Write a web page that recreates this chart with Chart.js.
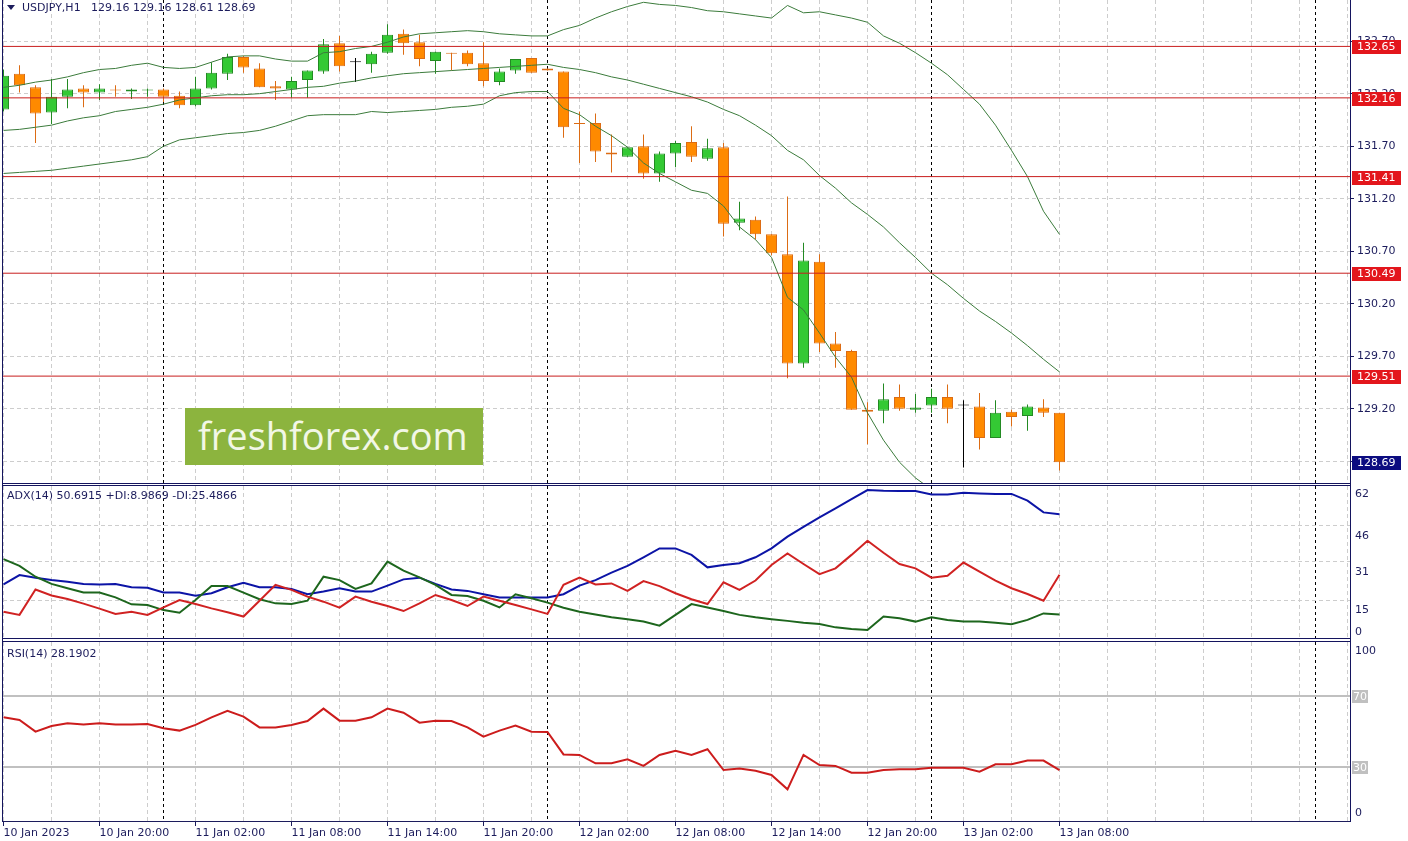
<!DOCTYPE html>
<html>
<head>
<meta charset="utf-8">
<title>USDJPY,H1</title>
<script src="https://cdn.jsdelivr.net/npm/chart.js@4.4.0/dist/chart.umd.min.js"></script>
<style>
  html, body { margin: 0; padding: 0; background: #fff; }
  body { width: 1408px; height: 841px; position: relative; overflow: hidden; font-family: 'DejaVu Sans', sans-serif; }
  canvas { position: absolute; left: 0; }
  .frame { position: absolute; background: #14145e; }
  .caption { position: absolute; font-size: 11px; line-height: 13px; color: #1c1c5c; white-space: pre; }
  #arrow { position: absolute; left: 7px; top: 5px; width: 0; height: 0; border-left: 4px solid transparent; border-right: 4px solid transparent; border-top: 5px solid #1c1c5c; }
  #logo { position: absolute; left: 185px; top: 408px; width: 298px; height: 57px; background: #8cb43e; color: #f2f7e6; font-family: 'Open Sans', sans-serif; font-size: 38px; line-height: 55px; text-indent: 13px; }
</style>
</head>
<body>
<canvas id="main" width="1408" height="483" style="top:0"></canvas>
<canvas id="adx" width="1408" height="152" style="top:486px"></canvas>
<canvas id="rsi" width="1408" height="199" style="top:642px"></canvas>

<div class="frame" style="left:2px;top:0;width:1px;height:822px"></div>
<div class="frame" style="left:1350px;top:0;width:1px;height:822px"></div>
<div class="frame" style="left:2px;top:483px;width:1349px;height:1px"></div>
<div class="frame" style="left:2px;top:485px;width:1349px;height:1px"></div>
<div class="frame" style="left:2px;top:638px;width:1349px;height:1px"></div>
<div class="frame" style="left:2px;top:641px;width:1349px;height:1px"></div>

<div id="arrow"></div>
<div class="caption" style="left:22px;top:1px">USDJPY,H1   129.16 129.16 128.61 128.69</div>
<div class="caption" style="left:7px;top:489px">ADX(14) 50.6915 +DI:8.9869 -DI:25.4866</div>
<div class="caption" style="left:7px;top:647px">RSI(14) 28.1902</div>
<div id="logo">freshforex.com</div>

<script>
// hourly candles, 10 Jan 14:00 .. 13 Jan 08:00
const opens = [132.05, 132.39, 132.26, 132.02, 132.17, 132.25, 132.21, 132.24, 132.22, 132.23,
  132.24, 132.18, 132.09, 132.25, 132.39, 132.55, 132.44, 132.27, 132.24, 132.33,
  132.41, 132.68, 132.50, 132.48, 132.59, 132.77, 132.69, 132.51, 132.59, 132.59,
  132.49, 132.31, 132.42, 132.54, 132.44, 132.41, 131.92, 131.92, 131.64, 131.60,
  131.70, 131.44, 131.63, 131.74, 131.58, 131.69, 130.97, 131.00, 130.86, 130.67,
  129.63, 130.60, 129.82, 129.75, 129.19, 129.18, 129.31, 129.19, 129.23, 129.31,
  129.23, 129.22, 128.92, 129.17, 129.13, 129.21, 129.16];
const highs = [132.43, 132.47, 132.28, 132.34, 132.34, 132.28, 132.29, 132.28, 132.25, 132.25,
  132.25, 132.22, 132.36, 132.50, 132.58, 132.56, 132.49, 132.32, 132.36, 132.42,
  132.72, 132.75, 132.54, 132.60, 132.86, 132.81, 132.76, 132.60, 132.59, 132.61,
  132.69, 132.44, 132.53, 132.54, 132.44, 132.41, 132.03, 132.01, 131.81, 131.69,
  131.81, 131.65, 131.75, 131.89, 131.77, 131.73, 131.17, 131.03, 130.86, 131.22,
  130.78, 130.67, 129.93, 129.76, 129.26, 129.44, 129.43, 129.34, 129.39, 129.43,
  129.28, 129.35, 129.28, 129.19, 129.24, 129.29, 129.16];
const lows = [132.03, 132.21, 131.73, 131.91, 132.06, 132.07, 132.14, 132.17, 132.15, 132.17,
  132.12, 132.06, 132.08, 132.24, 132.33, 132.40, 132.26, 132.14, 132.16, 132.16,
  132.39, 132.41, 132.31, 132.40, 132.58, 132.57, 132.46, 132.39, 132.42, 132.46,
  132.27, 132.28, 132.39, 132.40, 132.42, 131.78, 131.54, 131.55, 131.45, 131.60,
  131.39, 131.36, 131.50, 131.55, 131.56, 130.84, 130.90, 130.81, 130.66, 129.49,
  129.59, 129.74, 129.59, 129.19, 128.86, 129.06, 129.18, 129.16, 129.16, 129.06,
  128.64, 128.81, 128.92, 129.03, 128.99, 129.12, 128.61];
const closes = [132.37, 132.28, 132.01, 132.17, 132.24, 132.21, 132.25, 132.23, 132.24, 132.24,
  132.17, 132.09, 132.25, 132.40, 132.55, 132.45, 132.26, 132.25, 132.32, 132.42,
  132.67, 132.46, 132.50, 132.58, 132.76, 132.68, 132.53, 132.60, 132.58, 132.48,
  132.32, 132.41, 132.53, 132.40, 132.42, 131.88, 131.91, 131.65, 131.62, 131.69,
  131.44, 131.63, 131.73, 131.60, 131.68, 130.96, 131.01, 130.86, 130.68, 129.63,
  130.61, 129.82, 129.75, 129.19, 129.17, 129.29, 129.20, 129.21, 129.31, 129.20,
  129.23, 128.92, 129.16, 129.12, 129.22, 129.16, 128.69];

// Bollinger bands
const bbUpper = [132.26, 132.28, 132.31, 132.33, 132.36, 132.40, 132.43, 132.44, 132.47, 132.49,
  132.45, 132.44, 132.45, 132.50, 132.55, 132.56, 132.56, 132.53, 132.51, 132.51,
  132.59, 132.60, 132.63, 132.65, 132.69, 132.74, 132.77, 132.78, 132.79, 132.80,
  132.79, 132.77, 132.76, 132.75, 132.75, 132.81, 132.85, 132.92, 132.98, 133.03,
  133.07, 133.05, 133.04, 133.02, 132.99, 132.98, 132.96, 132.94, 132.92, 133.04,
  132.97, 132.98, 132.95, 132.92, 132.88, 132.75, 132.68, 132.59, 132.49, 132.38,
  132.24, 132.10, 131.90, 131.66, 131.41, 131.08, 130.86];
const bbMiddle = [131.85, 131.86, 131.88, 131.90, 131.94, 131.97, 131.99, 132.03, 132.05, 132.07,
  132.10, 132.14, 132.16, 132.18, 132.19, 132.19, 132.20, 132.22, 132.24, 132.26,
  132.27, 132.30, 132.32, 132.35, 132.37, 132.39, 132.40, 132.41, 132.42, 132.43,
  132.44, 132.45, 132.46, 132.47, 132.48, 132.45, 132.43, 132.40, 132.36, 132.33,
  132.29, 132.25, 132.21, 132.17, 132.12, 132.05, 131.99, 131.90, 131.80, 131.66,
  131.57, 131.42, 131.30, 131.16, 131.05, 130.93, 130.78, 130.64, 130.49, 130.38,
  130.25, 130.13, 130.03, 129.92, 129.80, 129.67, 129.55];
const bbLower = [131.44, 131.45, 131.46, 131.47, 131.49, 131.51, 131.53, 131.55, 131.57, 131.60,
  131.70, 131.76, 131.78, 131.80, 131.82, 131.83, 131.85, 131.89, 131.94, 131.99,
  132.00, 132.00, 132.00, 132.03, 132.02, 132.03, 132.04, 132.05, 132.07, 132.08,
  132.10, 132.18, 132.21, 132.22, 132.22, 132.06, 132.00, 131.89, 131.80, 131.69,
  131.54, 131.44, 131.36, 131.28, 131.25, 131.13, 130.93, 130.81, 130.64, 130.26,
  130.14, 129.92, 129.69, 129.50, 129.16, 128.90, 128.69, 128.54, 128.43, 128.28,
  128.14, 128.16, 128.15, 128.18, 128.19, 128.26, 128.23];

// ADX(14)
const adxMain = [21.5, 25.4, 24.3, 23.3, 22.6, 21.7, 21.5, 21.7, 20.3, 20.1,
  18.1, 18.1, 16.8, 17.8, 20.3, 22.2, 20.3, 20.3, 19.6, 17.4,
  18.5, 19.9, 18.5, 18.5, 21.0, 23.6, 24.3, 21.7, 19.4, 18.8,
  17.4, 16.0, 16.0, 16.0, 16.0, 17.4, 21.0, 23.3, 26.4, 29.2,
  32.8, 36.5, 36.5, 33.8, 28.6, 29.6, 30.3, 32.8, 36.5, 41.4,
  45.5, 49.4, 53.2, 57.0, 60.8, 60.5, 60.4, 60.4, 59.0, 59.0,
  59.7, 59.4, 59.2, 59.2, 56.4, 51.5, 50.69];
const plusDI = [32.0, 29.2, 24.7, 21.7, 19.9, 18.1, 18.1, 16.1, 13.2, 12.9,
  10.8, 9.7, 15.0, 20.8, 20.8, 18.1, 15.3, 13.6, 13.3, 14.7,
  24.7, 23.3, 19.6, 21.9, 31.0, 27.2, 24.4, 21.3, 17.1, 16.7,
  14.7, 11.9, 17.4, 15.7, 13.9, 11.8, 10.1, 9.0, 7.8, 7.0,
  6.0, 4.3, 8.8, 13.3, 11.9, 10.4, 8.8, 7.8, 7.0, 6.3,
  5.5, 5.0, 3.6, 2.9, 2.5, 8.1, 7.4, 6.0, 7.8, 6.7,
  6.0, 6.0, 5.5, 4.9, 6.7, 9.4, 8.99];
const minusDI = [10.1, 8.8, 19.4, 16.9, 15.4, 13.5, 11.4, 9.2, 10.1, 8.8,
  11.9, 15.0, 13.3, 11.5, 9.9, 8.1, 14.7, 21.3, 19.2, 16.4,
  14.3, 11.8, 16.4, 14.3, 12.5, 10.4, 13.6, 17.1, 15.0, 12.5,
  16.4, 14.7, 12.9, 11.1, 9.2, 21.3, 24.3, 21.5, 21.9, 18.8,
  22.9, 20.8, 17.8, 15.3, 13.3, 22.4, 19.2, 23.1, 29.6, 34.4,
  30.0, 25.8, 28.2, 33.8, 39.7, 34.7, 30.0, 28.2, 24.3, 25.1,
  30.6, 26.8, 23.1, 19.9, 17.5, 14.7, 25.49];

// RSI(14)
const rsi = [58.0, 56.5, 49.9, 53.1, 54.6, 54.0, 54.6, 54.0, 54.0, 54.2,
  51.8, 50.5, 53.7, 58.0, 61.7, 58.4, 52.3, 52.2, 53.7, 55.9,
  62.9, 56.1, 56.1, 58.0, 62.9, 60.6, 55.0, 56.1, 55.9, 52.3,
  47.1, 50.5, 53.3, 49.9, 49.7, 37.1, 36.8, 32.1, 32.1, 34.3,
  30.6, 36.8, 39.2, 36.8, 40.0, 28.3, 29.2, 27.9, 25.5, 17.4,
  36.8, 31.1, 30.6, 26.8, 26.8, 28.3, 28.7, 28.7, 29.6, 29.6,
  29.6, 27.4, 31.5, 31.5, 33.6, 33.6, 28.19];

const levels = [132.65, 132.16, 131.41, 130.49, 129.51];
const rsiLevels = [70, 30];
const priceTicks = [128.70, 129.20, 129.70, 130.20, 130.70, 131.20, 131.70, 132.20, 132.70];
const adxTicks = [62, 46, 31, 15, 0];
const rsiTicks = [100, 70, 30, 0];
const timeLabels = ['10 Jan 2023', '10 Jan 20:00', '11 Jan 02:00', '11 Jan 08:00', '11 Jan 14:00',
  '11 Jan 20:00', '12 Jan 02:00', '12 Jan 08:00', '12 Jan 14:00', '12 Jan 20:00',
  '13 Jan 02:00', '13 Jan 08:00'];
const daySeparators = [10, 34, 58, 82];

const navy = '#1c1c5c';
const family = "'DejaVu Sans', sans-serif";
const gridGray = '#cdcdcd';
const xMin = -1 / 32;
const xMax = (1350 - 3) / 16 - 1 / 32;
const gridSteps = [];
for (let i = 0; i <= 84; i += 3) gridSteps.push(i);

Chart.defaults.font.family = family;
Chart.defaults.font.size = 11;

const series = (arr) => arr.map((v, i) => ({ x: i, y: v }));
const hline = (v) => [{ x: xMin, y: v }, { x: xMax, y: v }];
const hasLabel = (v) => v % 6 === 0 && v / 6 < timeLabels.length;

// no extra room for edge labels, panels are fixed
const fixWidth = (s) => {
  s.width = 58;
  s.paddingTop = 0;
  s.paddingBottom = 0;
};

// dashed 3-hour grid
const gridAxis = () => ({
  type: 'linear', min: xMin, max: xMax, offset: false,
  afterBuildTicks: (s) => { s.ticks = gridSteps.map(v => ({ value: v })); },
  afterFit: (s) => { s.height = 0; },
  ticks: { display: false },
  grid: { color: gridGray, drawTicks: false, offset: false },
  border: { display: false, dash: [4, 3] },
});

// day separators
const sepAxis = () => ({
  type: 'linear', min: xMin, max: xMax, offset: false,
  afterBuildTicks: (s) => { s.ticks = daySeparators.map(v => ({ value: v })); },
  afterFit: (s) => { s.height = 0; },
  ticks: { display: false },
  grid: { color: '#000', drawTicks: false, offset: false },
  border: { display: false, dash: [3, 3] },
});

const baseOptions = (scales) => ({
  responsive: false,
  animation: false,
  events: [],
  layout: { padding: { left: 3, top: 0, right: 0, bottom: 0 } },
  plugins: { legend: { display: false }, tooltip: { enabled: false } },
  scales,
});

// values on the right edge of sub windows
const sideLabels = (items) => ({
  id: 'sideLabels',
  afterDraw(chart) {
    const { ctx } = chart;
    const y = chart.scales.y;
    ctx.save();
    ctx.font = '11px ' + family;
    ctx.textBaseline = 'middle';
    items.forEach(([v, shift, box]) => {
      const py = Math.round(y.getPixelForValue(v)) + shift;
      if (box) {
        ctx.fillStyle = box;
        ctx.fillRect(y.left + 2, py - 6, 16, 13);
        ctx.fillStyle = '#fff';
        ctx.fillText(String(v), y.left + 3, py + 1);
      } else {
        ctx.fillStyle = navy;
        ctx.fillText(String(v), y.left + 5, py);
      }
    });
    ctx.restore();
  }
});

const priceTags = {
  id: 'priceTags',
  afterDraw(chart) {
    const { ctx } = chart;
    const y = chart.scales.y;
    const tag = (v, bg) => {
      const py = Math.round(y.getPixelForValue(v));
      ctx.fillStyle = bg;
      ctx.fillRect(y.left + 2, py - 6, 49, 14);
      ctx.fillStyle = '#fff';
      ctx.fillText(v.toFixed(2), y.left + 7, py + 1);
    };
    ctx.save();
    ctx.font = '11px ' + family;
    ctx.textBaseline = 'middle';
    levels.forEach(v => tag(v, '#e3161c'));
    tag(closes[closes.length - 1], '#0c0c80');
    ctx.restore();
  }
};

const kind = (i) => closes[i] > opens[i] ? 1 : closes[i] < opens[i] ? -1 : 0;
const pick = (i, up, down, flat) => ({ '1': up, '-1': down, '0': flat })[kind(i)];
const idx = opens.map((_, i) => i);

new Chart(document.getElementById('main'), {
  type: 'bar',
  data: {
    datasets: [
      ...levels.map(v => ({
        type: 'line', data: hline(v), borderColor: '#c81e1e', borderWidth: 1, pointRadius: 0, order: 1,
      })),
      ...[bbUpper, bbMiddle, bbLower].map(arr => ({
        type: 'line', data: series(arr), borderColor: '#3b7b3b', borderWidth: 1, pointRadius: 0, order: 2,
      })),
      {
        data: idx.map(i => ({ x: i, y: [opens[i], closes[i]] })),
        backgroundColor: idx.map(i => pick(i, '#34c934', '#ff8a00', '#000')),
        borderColor: idx.map(i => pick(i, '#238a23', '#dc6c14', '#000')),
        borderWidth: 1, borderSkipped: false, barThickness: 11, minBarLength: 1,
        inflateAmount: 0, grouped: false, order: 3,
      },
      {
        data: idx.map(i => ({ x: i, y: [lows[i], highs[i]] })),
        backgroundColor: idx.map(i => pick(i, '#238a23', '#dc6c14', '#000')),
        borderWidth: 0, barThickness: 1, inflateAmount: 0, grouped: false, order: 4,
      },
    ],
  },
  options: baseOptions({
    x: gridAxis(),
    xs: sepAxis(),
    y: {
      position: 'right',
      min: 133.092 - 483 / 105,
      max: 133.092,
      afterBuildTicks: (s) => { s.ticks = priceTicks.map(v => ({ value: v })); },
      afterFit: fixWidth,
      ticks: { color: navy, padding: 3, autoSkip: false, callback: (v) => v.toFixed(2) },
      grid: { color: gridGray, tickColor: navy, tickLength: 4, tickBorderDash: [] },
      border: { display: true, color: navy, dash: [4, 3] },
    },
  }),
  plugins: [priceTags],
});

new Chart(document.getElementById('adx'), {
  type: 'line',
  data: {
    datasets: [
      { data: series(minusDI), borderColor: '#d02222', borderWidth: 2, pointRadius: 0 },
      { data: series(plusDI), borderColor: '#1d661d', borderWidth: 2, pointRadius: 0 },
      { data: series(adxMain), borderColor: '#0c14a6', borderWidth: 2, pointRadius: 0 },
    ],
  },
  options: baseOptions({
    x: gridAxis(),
    xs: sepAxis(),
    y: {
      position: 'right',
      min: -2 / 2.4,
      max: 150 / 2.4,
      afterBuildTicks: (s) => { s.ticks = [46, 31, 15].map(v => ({ value: v })); },
      afterFit: fixWidth,
      ticks: { display: false },
      grid: { color: gridGray, drawTicks: false },
      border: { display: true, color: navy, dash: [4, 3] },
    },
  }),
  plugins: [sideLabels(adxTicks.map(v => [v, v === 62 ? 7 : v === 0 ? -4 : 10]))],
});

new Chart(document.getElementById('rsi'), {
  type: 'line',
  data: {
    datasets: [
      { data: series(rsi), borderColor: '#cc1c1c', borderWidth: 2, pointRadius: 0 },
      ...rsiLevels.map(v => ({ data: hline(v), borderColor: '#c0c0c0', borderWidth: 2, pointRadius: 0 })),
    ],
  },
  options: baseOptions({
    x: {
      type: 'linear', min: xMin, max: xMax, offset: false,
      afterBuildTicks: (s) => { s.ticks = gridSteps.map(v => ({ value: v })); },
      afterFit: (s) => { s.height = 20; },
      ticks: {
        autoSkip: false, maxRotation: 0, align: 'start', color: navy, padding: 1,
        callback: (v) => hasLabel(v) ? timeLabels[v / 6] : '',
      },
      grid: {
        color: gridGray, offset: false, tickLength: 5, tickBorderDash: [],
        tickColor: (c) => (c.tick && hasLabel(c.tick.value)) ? navy : 'rgba(0,0,0,0)',
      },
      border: { display: true, color: navy, dash: [4, 3] },
    },
    xs: sepAxis(),
    y: {
      position: 'right',
      min: -0.42,
      max: 100.42,
      afterFit: fixWidth,
      ticks: { display: false },
      grid: { display: false },
      border: { display: true, color: navy },
    },
  }),
  plugins: [sideLabels(rsiTicks.map(v => [v, v === 100 ? 8 : v === 0 ? -7 : 0,
    rsiLevels.includes(v) ? '#c0c0c0' : null]))],
});
</script>
</body>
</html>
